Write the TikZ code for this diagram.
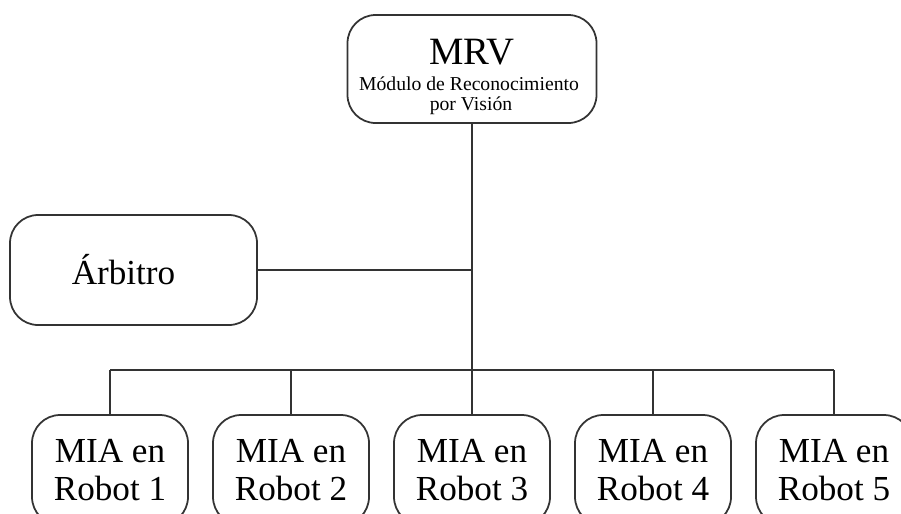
\documentclass[tikz,border=0pt]{standalone}
\usepackage{fontspec}
\setmainfont{Liberation Serif}
\usetikzlibrary{positioning}

\begin{document}
\begin{tikzpicture}[
  font=\fontsize{10}{10.6}\selectfont,
  modbox/.style={draw=black!80,line width=0.5pt,rounded corners=8pt,align=center,
                 inner sep=2pt},
  small/.style={anchor=base,inner sep=0pt,font=\fontsize{5.6}{6}\selectfont},
  ln/.style={draw=black!80,line width=0.5pt}
]
\useasboundingbox (0,0) rectangle (9.01,5.13);
\clip (0,0) rectangle (9.01,5.13);

% top module
\node[modbox,minimum width=2.49cm,minimum height=1.08cm] (mrv) at (4.72,4.44) {};
\node[anchor=base,inner sep=0pt,font=\fontsize{11}{11}\selectfont] (mrvt) at (4.72,4.49) {MRV};
\node[small] (mrvs) at (4.69,4.23) {M\'odulo de Reconocimiento};
\node[small] (mrvv) at (4.71,4.03) {por Visi\'on};

\node[modbox,minimum width=2.47cm,minimum height=1.10cm] (arb) at (1.335,2.43)
  {\hspace*{-0.2cm}\'Arbitro};

\coordinate (bus) at (4.72,1.43);
\draw[ln] (mrv.south) -- (bus);
\draw[ln] (arb.east) -- (arb.east -| bus);

% robots
\foreach \i in {1,...,5}{
  \node[modbox,minimum width=1.56cm,minimum height=1.10cm] (r\i) at ({1.10+(\i-1)*1.81},0.43)
    {MIA en\\ Robot \i};
  \draw[ln] (r\i.north) -- (r\i.north |- bus);
}
\draw[ln] (r1.north |- bus) -- (r5.north |- bus);
\end{tikzpicture}
\end{document}
